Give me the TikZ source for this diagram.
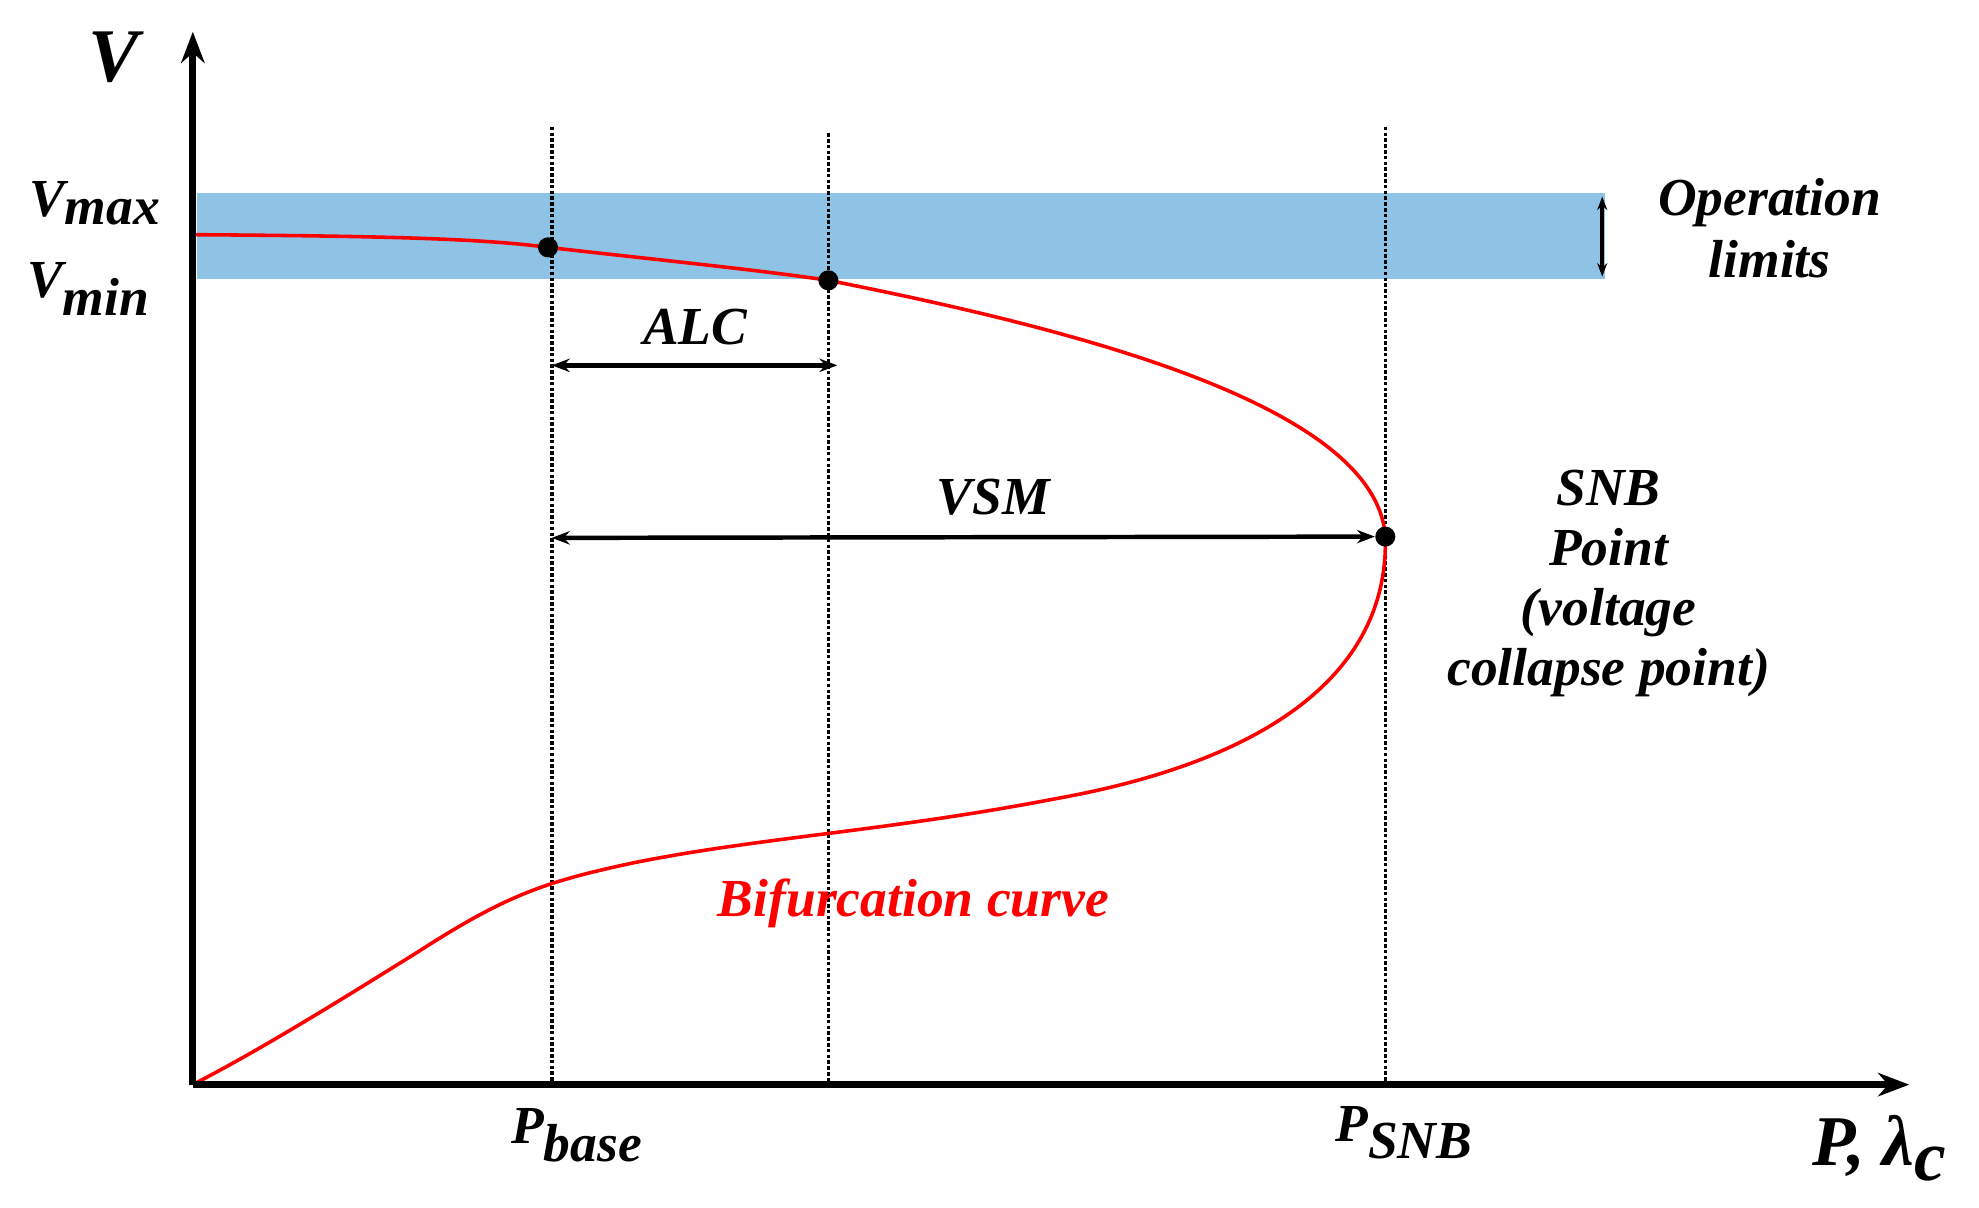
\documentclass[tikz,border=0pt]{standalone}
\usepackage{fontspec}
\setmainfont{Liberation Serif}
\usetikzlibrary{arrows.meta}
\definecolor{band}{RGB}{142,195,230}
\begin{document}
\begin{tikzpicture}[x=0.02cm,y=-0.02cm,
  lbl/.style={font=\fontsize{24}{28}\selectfont\bfseries\itshape, inner sep=0},
  dotline/.style={densely dotted, line width=1.6pt},
  dim/.style={line width=2pt, {Stealth[length=8pt]}-{Stealth[length=8pt]}},
  pt/.style={circle, fill=black, inner sep=0, minimum size=9pt}]
\useasboundingbox (0,0) rectangle (1560,952);
\fill[band] (155,152) rectangle (1265,220);
\coordinate (O) at (152,855);
\coordinate (Ytop) at (152,25);
\coordinate (Xend) at (1505,855);
\foreach \x/\t in {435/100,653/105,1092/100} \draw[dotline] (\x,\t) -- (\x,855);
\draw[red, line width=1.6pt] (152,185) .. controls (300,186) and (380,188) .. (432,195)
  .. controls (520,205) and (600,213) .. (653,221)
  .. controls (850,260) and (1085,320) .. (1092,423)
  .. controls (1095,530) and (1000,600) .. (830,630)
  .. controls (700,655) and (600,660) .. (500,680)
  .. controls (430,695) and (400,705) .. (330,750)
  .. controls (250,800) and (200,830) .. (O);
\draw[line width=3pt, -{Stealth[length=14pt]}] (O) -- (Ytop);
\draw[line width=3pt, -{Stealth[length=14pt]}] (O) -- (Xend);
\node[pt] (A) at (432,195) {};
\node[pt] (B) at (653,221) {};
\node[pt] (S) at (1092,423) {};
\coordinate (alcL) at (435,288); \coordinate (alcR) at (660,288);
\draw[dim] (alcL) -- (alcR);
\coordinate (vsmL) at (435,424);
\draw[dim] (vsmL) -- (S.west);
\coordinate (opT) at (1263,155); \coordinate (opB) at (1263,218);
\draw[line width=1.6pt, {Stealth[length=6pt]}-{Stealth[length=6pt]}] (opT) -- (opB);
\node[lbl] (alc) at (548,258) {ALC};
\node[lbl] (vsm) at (783,392) {VSM};
\node[lbl, align=center] (op) at (1395,180) {Operation\\limits};
\node[lbl, align=center, font=\fontsize{24}{27}\selectfont\bfseries\itshape] (snb) at (1268,460) {SNB\\Point\\(voltage\\collapse point)};
\node[lbl, red] (bif) at (720,712) {Bifurcation curve};
\node[lbl, font=\fontsize{34}{36}\selectfont\bfseries\itshape] (V) at (90,45) {V};
\node[lbl] (vmax) at (75,160) {V$_{\textbf{\textit{max}}}$};
\node[lbl] (vmin) at (70,228) {V$_{\textbf{\textit{min}}}$};
\node[lbl] (pb) at (455,895) {P$_{\textbf{\textit{base}}}$};
\node[lbl] (ps) at (1107,893) {P$_{\textbf{\textit{SNB}}}$};
\node[lbl, font=\fontsize{32}{34}\selectfont\bfseries\itshape] (pl) at (1482,905) {P, λ$_{\textbf{\textit{c}}}$};
\end{tikzpicture}
\end{document}
